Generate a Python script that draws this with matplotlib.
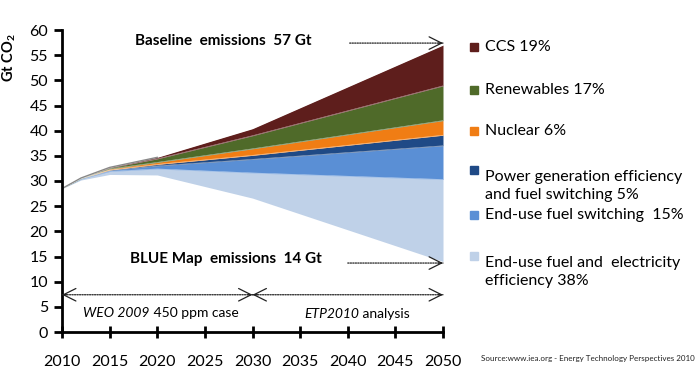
import numpy as np
import matplotlib
matplotlib.use('Agg')
import matplotlib.pyplot as plt
from matplotlib.patches import Rectangle

plt.rcParams['font.family'] = ['Lato', 'DejaVu Sans']
plt.rcParams['mathtext.fontset'] = 'custom'
plt.rcParams['mathtext.rm'] = 'Lato'
plt.rcParams['mathtext.bf'] = 'Lato:bold'

# data (Gt CO2)
years = [2010, 2012, 2015, 2020, 2030, 2050]
blue_map = [28.5, 30.2, 31.3, 31.2, 26.6, 14.0]
# wedges, from the bottom (just above BLUE Map) to the top (baseline)
end_use_eff = [0, 0.2, 0.6, 1.2, 5.0, 16.3]
end_use_fuel = [0, 0.1, 0.2, 0.6, 2.7, 6.7]
power_gen = [0, 0.0, 0.1, 0.3, 0.8, 2.1]
nuclear = [0, 0.0, 0.2, 0.4, 1.3, 2.9]
renewables = [0, 0.1, 0.2, 0.7, 2.6, 6.9]
ccs = [0, 0.0, 0.1, 0.3, 1.4, 8.1]

wedges = [end_use_eff, end_use_fuel, power_gen, nuclear, renewables, ccs]
colors = ['#bfd1e8', '#5a8fd5', '#1f4a86', '#f07d14', '#4f6a29', '#5e1e1c']
labels = ['CCS 19%', 'Renewables 17%', 'Nuclear 6%',
          'Power generation efficiency\nand fuel switching 5%',
          'End-use fuel switching  15%',
          'End-use fuel and  electricity\nefficiency 38%']
label_y = [47, 90, 131, 170, 215, 256]  # pixel rows of legend entries

fig = plt.figure(figsize=(7, 3.78), dpi=100)
ax = fig.add_axes([62/700, 1-332/378, (443-62)/700, (332-30)/378])

base = np.array(blue_map, dtype=float)
for w, c in zip(wedges, colors):
    top = base + np.array(w)
    ax.fill_between(years, base, top, color=c, lw=0)
    ax.plot(years, top, color='white', lw=0.4, alpha=0.6)
    base = top
ax.plot(years[:4], base[:4], color='#888888', lw=1.0)

ax.set_xlim(2010, 2050)
ax.set_ylim(0, 60)
ax.set_xticks(range(2010, 2051, 5))
ax.set_yticks(range(0, 61, 5))
for s in ['top', 'right']:
    ax.spines[s].set_visible(False)
for s in ['left', 'bottom']:
    ax.spines[s].set_linewidth(2)
ax.tick_params(axis='y', direction='out', length=6, width=2, pad=4, labelsize=11.5)
ax.tick_params(axis='x', direction='inout', length=9, width=2, pad=12, labelsize=11.5)
ax.set_ylabel('Gt CO$_\\mathbf{2}$', fontweight='bold', fontsize=10.5, labelpad=4)
ax.yaxis.set_label_coords(-0.115, 0.91)

ax.text(2017.7, 57.8, 'Baseline  emissions  57 Gt', fontweight='bold', fontsize=11, va='center')
ax.text(2017.1, 14.5, 'BLUE Map  emissions  14 Gt', fontweight='bold', fontsize=11, va='center')


def dotted_arrow(x0, x1, y, head_left=False, head_right=True):
    ax.annotate('', xy=(x1, y), xytext=(x0, y),
                arrowprops=dict(arrowstyle='-', ls=(0, (1, 1)), lw=0.9, color='#222222',
                                shrinkA=0, shrinkB=0), annotation_clip=False)
    if head_right:
        ax.annotate('', xy=(x1, y), xytext=(x1 - 0.5, y),
                    arrowprops=dict(arrowstyle='->,head_length=0.9,head_width=0.45',
                                    lw=0.9, color='#222222', shrinkA=0, shrinkB=0),
                    annotation_clip=False)
    if head_left:
        ax.annotate('', xy=(x0, y), xytext=(x0 + 0.5, y),
                    arrowprops=dict(arrowstyle='->,head_length=0.9,head_width=0.45',
                                    lw=0.9, color='#222222', shrinkA=0, shrinkB=0),
                    annotation_clip=False)


dotted_arrow(2040.2, 2050, 57.4)
dotted_arrow(2040.0, 2050, 13.7)
dotted_arrow(2010, 2030, 7.4, head_left=True)
dotted_arrow(2030, 2050, 7.4, head_left=True)

# period captions: italic report name + plain rest
ax.text(2019.2, 3.8, 'WEO 2009', style='italic', fontsize=10, ha='right', va='center')
ax.text(2019.2, 3.8, ' 450 ppm case', fontsize=10, ha='left', va='center')
ax.text(2041.2, 3.6, 'ETP2010', style='italic', fontsize=10, ha='right', va='center')
ax.text(2041.2, 3.6, ' analysis', fontsize=10, ha='left', va='center')

for lab, c, yp in zip(labels, colors[::-1], label_y):
    fig.patches.append(Rectangle((470/700, 1-(yp+4)/378), 8/700, 8/378,
                                 transform=fig.transFigure, color=c))
    fig.text(485/700, 1-yp/378, lab, fontsize=11.5, va='top' if '\n' in lab else 'center',
             linespacing=1.4)

fig.text(481/700, 1-359/378, 'Source:www.iea.org - Energy Technology Perspectives 2010',
         fontsize=5.8, va='center', color='#222222')

fig.savefig('out.png', dpi=100)
